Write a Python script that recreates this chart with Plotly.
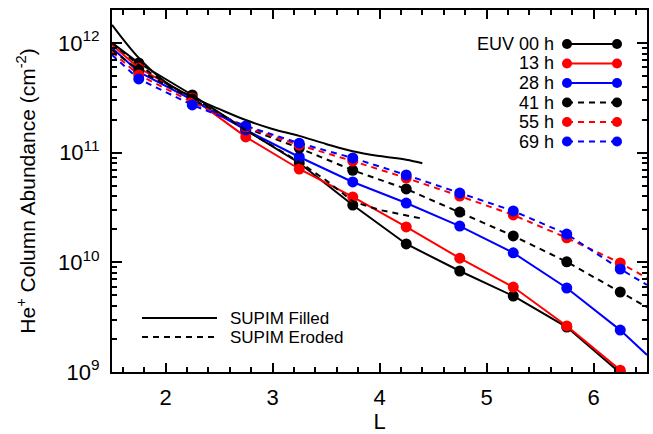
import plotly.graph_objects as go

# ---------------- data ----------------
L_dots = [1.75, 2.25, 2.75, 3.25, 3.75, 4.25, 4.75, 5.25, 5.75, 6.25]
L_start = 1.5
L_end = 6.5

series_names = ["EUV 00 h", "13 h", "28 h", "41 h", "55 h", "69 h"]
series_colors = ["black", "red", "blue", "black", "red", "blue"]
series_dash = ["solid", "solid", "solid", "6px,5px", "6px,5px", "6px,5px"]

euv00 = [6.56e11, 3.35e11, 1.61e11, 8.04e10, 3.33e10, 1.47e10, 8.33e9, 4.93e9, 2.57e9, 9.8e8]
h13 = [5.90e11, 3.15e11, 1.39e11, 7.09e10, 3.94e10, 2.10e10, 1.09e10, 5.95e9, 2.63e9, 1.04e9]
h28 = [5.43e11, 3.02e11, 1.61e11, 9.12e10, 5.40e10, 3.47e10, 2.14e10, 1.22e10, 5.83e9, 2.41e9]
h41 = [5.66e11, 3.08e11, 1.68e11, 1.10e11, 6.90e10, 4.66e10, 2.87e10, 1.74e10, 1.01e10, 5.36e9]
h55 = [5.10e11, 2.89e11, 1.71e11, 1.17e11, 8.38e10, 5.87e10, 4.02e10, 2.70e10, 1.67e10, 9.86e9]
h69 = [4.69e11, 2.72e11, 1.75e11, 1.22e11, 8.93e10, 6.25e10, 4.28e10, 2.94e10, 1.81e10, 8.69e9]

start_vals = [1.00e12, 9.57e11, 8.99e11, 8.61e11, 8.26e11, 7.76e11]
end_vals = [4.5e8, 6.6e8, 1.43e9, 3.9e9, 7.19e9, 6.21e9]

L_supim = [1.5, 1.75, 2.0, 2.25, 2.5, 2.75, 3.0, 3.25, 3.5, 3.75, 4.0, 4.25, 4.4]
supim_filled = [1.46e12, 7.3e11, 4.4e11, 3.2e11, 2.5e11, 1.98e11, 1.64e11, 1.42e11,
                1.2e11, 1.03e11, 9.3e10, 8.6e10, 8.0e10]
supim_eroded = [1.0e12, 6.3e11, 4.3e11, 3.2e11, 2.3e11, 1.6e11, 1.15e11, 8.2e10,
                5.6e10, 3.6e10, 3.0e10, 2.7e10, 2.5e10]

ytick_vals = [1e9, 1e10, 1e11, 1e12]
ytick_text = ["10<sup>9</sup>", "10<sup>10</sup>", "10<sup>11</sup>", "10<sup>12</sup>"]
xtick_vals = [2, 3, 4, 5, 6]

all_dots = [euv00, h13, h28, h41, h55, h69]

# ---------------- figure ----------------
FONT = "Liberation Sans, Arial, sans-serif"
fig = go.Figure()

for name, col, dash, dots, s, e in zip(series_names, series_colors, series_dash,
                                       all_dots, start_vals, end_vals):
    fig.add_trace(go.Scatter(
        x=[L_start] + L_dots + [L_end], y=[s] + dots + [e],
        mode="lines", line=dict(color=col, width=2, dash=dash),
        showlegend=False, hoverinfo="skip"))
    fig.add_trace(go.Scatter(
        x=L_dots, y=dots, mode="markers", name=name,
        marker=dict(color=col, size=11), showlegend=False))

fig.add_trace(go.Scatter(x=L_supim, y=supim_filled, mode="lines",
                         line=dict(color="black", width=2), showlegend=False,
                         name="SUPIM Filled", line_shape="spline"))
fig.add_trace(go.Scatter(x=L_supim, y=supim_eroded, mode="lines",
                         line=dict(color="black", width=2, dash="6px,5px"),
                         showlegend=False, name="SUPIM Eroded"))

W, H = 653, 434
ml, mr, mt, mb = 112, 6, 10, 62
pw, ph = W - ml - mr, H - mt - mb


def px(x):
    return (x - ml) / pw


def py(y):
    return (H - mb - y) / ph


shapes = []
annotations = []
# top-right legend
rows_y = [44, 63.5, 83, 102.5, 122, 141.5]
for name, col, dash, yy in zip(series_names, series_colors, series_dash, rows_y):
    shapes.append(dict(type="line", xref="paper", yref="paper",
                       x0=px(567), x1=px(617), y0=py(yy), y1=py(yy),
                       line=dict(color=col, width=2, dash=dash)))
    for cx in (567, 617):
        shapes.append(dict(type="circle", xref="paper", yref="paper",
                           xsizemode="pixel", ysizemode="pixel",
                           xanchor=px(cx), yanchor=py(yy),
                           x0=-5, x1=5, y0=-5, y1=5,
                           fillcolor=col, line=dict(color=col, width=0)))
    annotations.append(dict(xref="paper", yref="paper", x=px(556), y=py(yy),
                            text=name, showarrow=False, xanchor="right",
                            yanchor="middle",
                            font=dict(size=18, color="black", family=FONT)))

# bottom-left legend
for lbl, dash, yy in [("SUPIM Filled", "solid", 318), ("SUPIM Eroded", "6px,5px", 337)]:
    shapes.append(dict(type="line", xref="paper", yref="paper",
                       x0=px(142), x1=px(217), y0=py(yy), y1=py(yy),
                       line=dict(color="black", width=2, dash=dash)))
    annotations.append(dict(xref="paper", yref="paper", x=px(228), y=py(yy),
                            text=lbl, showarrow=False, xanchor="left",
                            yanchor="middle",
                            font=dict(size=17, color="black", family=FONT)))

minor_y = [k * 10 ** e for e in range(9, 13) for k in range(2, 10)]

fig.update_layout(
    width=W, height=H,
    margin=dict(l=ml, r=mr, t=mt, b=mb),
    paper_bgcolor="white", plot_bgcolor="white",
    font=dict(family=FONT, color="black"),
    shapes=shapes, annotations=annotations,
    xaxis=dict(range=[1.5, 6.5], tickvals=xtick_vals, ticks="inside", ticklen=9,
               tickwidth=1.5, tickcolor="black", automargin=False,
               showline=True, linecolor="black", linewidth=2, mirror="allticks",
               showgrid=False, zeroline=False, ticklabelstandoff=5,
               tickfont=dict(size=22),
               minor=dict(dtick=0.2, tick0=0, ticks="inside", ticklen=5,
                          tickwidth=1.5, tickcolor="black", showgrid=False),
               title=dict(text="L", font=dict(size=22), standoff=13)),
    yaxis=dict(type="log", range=[9, 12.3], tickvals=ytick_vals, ticktext=ytick_text,
               ticks="inside", ticklen=10, tickwidth=1.5, tickcolor="black",
               automargin=False,
               showline=True, linecolor="black", linewidth=2, mirror="allticks",
               showgrid=False, zeroline=False, ticklabelstandoff=6,
               tickfont=dict(size=22),
               minor=dict(tickvals=minor_y, ticks="inside", ticklen=5,
                          tickwidth=1.5, tickcolor="black", showgrid=False),
               title=dict(text="He<sup>+</sup> Column Abundance (cm<sup>-2</sup>)",
                          font=dict(size=21), standoff=17)),
)

fig.write_html("out.html", config={"displayModeBar": False},
               post_script="document.body.style.margin='0';document.body.style.overflow='hidden';")
